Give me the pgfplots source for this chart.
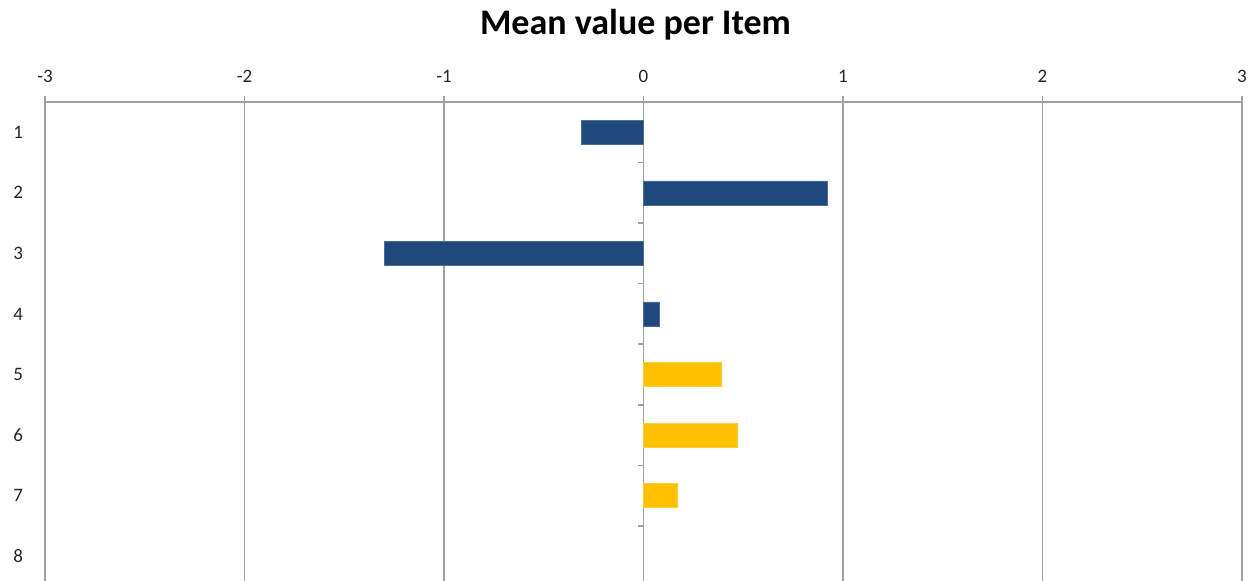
\documentclass[border=0pt]{standalone}
\usepackage{fontspec}
\setmainfont{Carlito}
\usepackage{pgfplots}
\pgfplotsset{compat=1.18}
\definecolor{barblue}{HTML}{1F497D}
\definecolor{bargold}{HTML}{FFC000}
\definecolor{gridgray}{HTML}{A0A0A0}
\begin{document}
\begin{tikzpicture}
\begin{axis}[
  at={(0,0)}, anchor=south west,
  scale only axis,
  width=598.5pt, height=239.5pt,
  xmin=-3, xmax=3,
  ymin=0.5, ymax=8.41,
  y dir=reverse,
  axis x line*=top,
  axis y line*=left,
  y axis line style={draw=none},
  x axis line style={draw=gridgray, line width=0.8pt},
  xtick={-3,-2,...,3},
  ytick={1,...,8},
  xmajorgrids,
  major grid style={draw=gridgray, line width=0.8pt},
  tick align=outside,
  major tick length=3pt,
  xtick style={draw=gridgray, line width=0.8pt},
  ytick style={draw=none},
  tick label style={font=\fontsize{9.5}{11}\selectfont, text=black!85},
  /pgf/number format/assume math mode=true,
  yticklabel style={xshift=-4.5pt},
  xticklabel style={yshift=3pt},
  clip=false,
]
\addplot[xbar, bar width=12pt, bar shift=0pt, fill=barblue, draw=barblue!80!white, line width=0.3pt]
  coordinates {(-0.31,1) (0.92,2) (-1.30,3) (0.08,4)};
\addplot[xbar, bar width=12pt, bar shift=0pt, fill=bargold, draw=bargold!80!white, line width=0.3pt]
  coordinates {(0.39,5) (0.47,6) (0.17,7)};
\pgfplotsinvokeforeach{1.5,2.5,3.5,4.5,5.5,6.5,7.5}{
  \draw[gridgray, line width=0.8pt] (axis cs:0,#1) -- ++(-3pt,0pt);
}
\end{axis}
\node[font=\fontsize{18}{21}\selectfont\bfseries, text=black] at ([xshift=-4pt,yshift=38.5pt]current axis.north) {Mean value per Item};
\pgfresetboundingbox
\path[use as bounding box] (-22.5pt,0) rectangle (601.5pt,290.5pt);
\end{tikzpicture}
\end{document}
